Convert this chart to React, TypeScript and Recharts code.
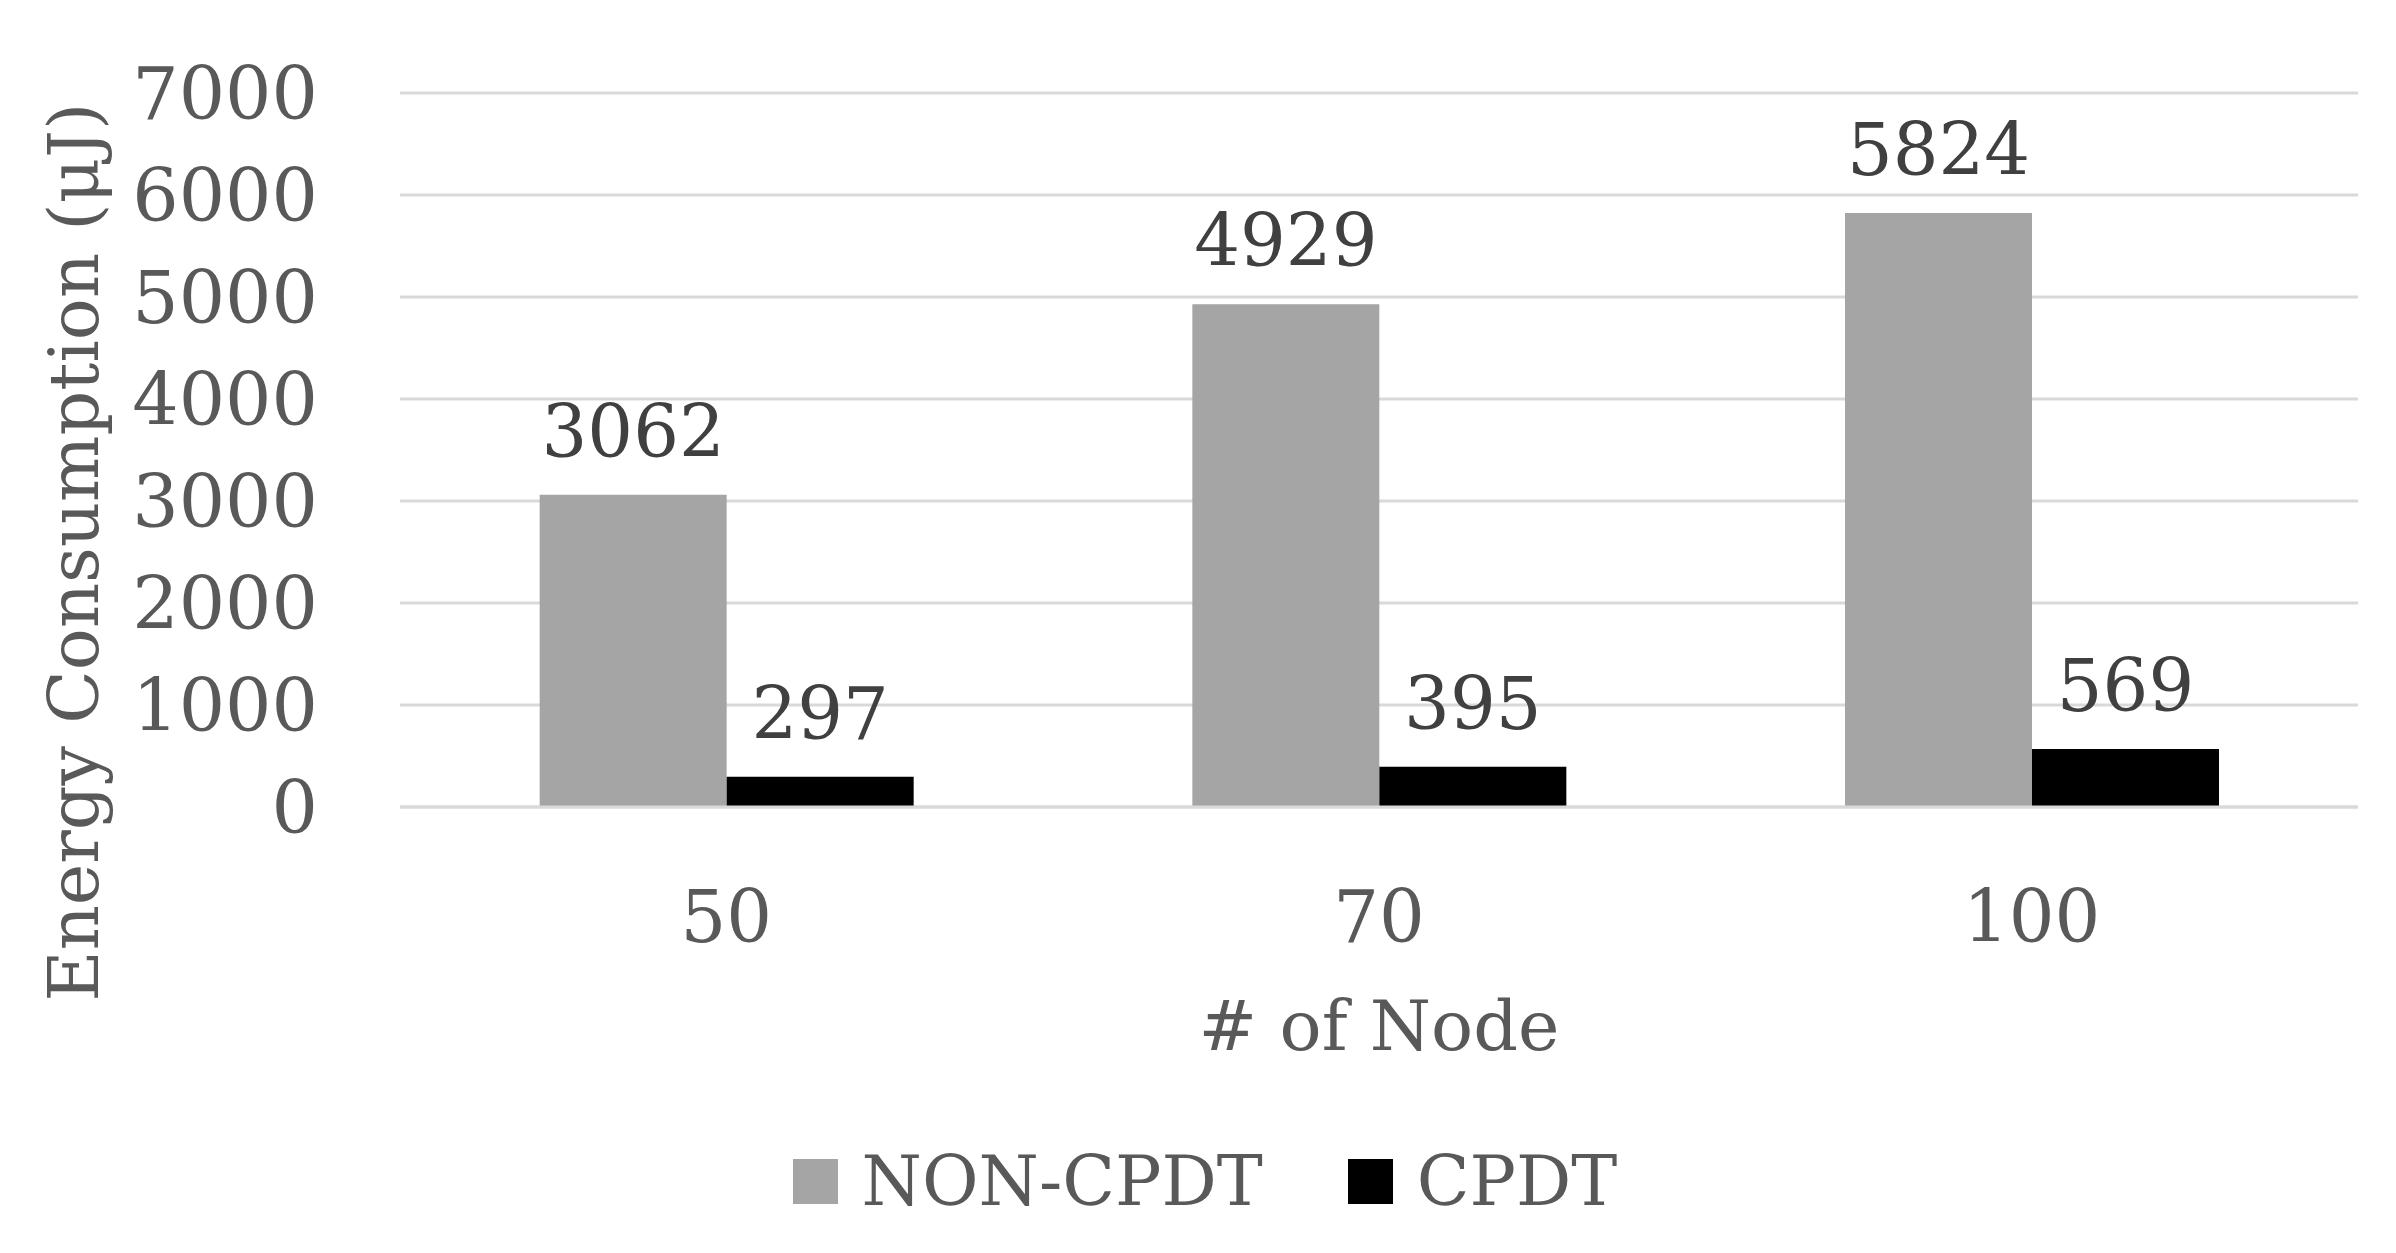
import React from 'react';
import { BarChart, Bar, XAxis, YAxis, CartesianGrid, Legend, LabelList, Label } from 'recharts';

const nodes = ['50', '70', '100'];
const nonCpdt = [3062, 4929, 5824];
const cpdt = [297, 395, 569];
const yTicks = [0, 1000, 2000, 3000, 4000, 5000, 6000, 7000];
const seriesNames = ['NON-CPDT', 'CPDT'];
const seriesColors = ['#a5a5a5', '#000000'];

const data = nodes.map((n, i) => ({ node: n, nonCpdt: nonCpdt[i], cpdt: cpdt[i] }));

const FONT = '"DejaVu Serif", serif';
const TEXT = '#595959';

const YTitle = ({ viewBox }: any) => {
  const cx = 98;
  const cy = viewBox.y + viewBox.height / 2 + 102;
  return (
    <text
      x={cx}
      y={cy}
      transform={`rotate(-90, ${cx}, ${cy})`}
      textAnchor="middle"
      fill={TEXT}
      fontSize={70}
      fontFamily={FONT}
    >
      Energy Consumption (μJ)
    </text>
  );
};

const LegendContent = () => (
  <div
    style={{
      display: 'flex',
      alignItems: 'center',
      justifyContent: 'center',
      height: 100,
      paddingLeft: 52,
      fontFamily: FONT,
      fontSize: 69,
      color: TEXT,
    }}
  >
    {seriesNames.map((name, i) => (
      <div key={name} style={{ display: 'flex', alignItems: 'center', marginLeft: i === 0 ? 0 : 85 }}>
        <span style={{ width: 45, height: 45, background: seriesColors[i], marginRight: 24, display: 'inline-block' }} />
        <span style={{ lineHeight: '100px' }}>{name}</span>
      </div>
    ))}
  </div>
);

const App: React.FC = () => {
  return (
    <div style={{ position: 'absolute', left: 0, top: 0, background: '#fff' }}>
      <BarChart
        width={2396}
        height={1253}
        data={data}
        margin={{ top: 93, right: 38, left: 0, bottom: 22 }}
        barCategoryGap="21.4%"
        barGap={0}
      >
        <CartesianGrid vertical={false} stroke="#d9d9d9" strokeWidth={3} />
        <XAxis
          dataKey="node"
          height={324}
          axisLine={{ stroke: '#d9d9d9', strokeWidth: 3 }}
          tickLine={false}
          tickMargin={78}
          tick={{ fill: TEXT, fontSize: 72, fontFamily: FONT }}
        >
          <Label
            value="# of Node"
            position="insideBottom"
            offset={81}
            fill={TEXT}
            fontSize={70}
            fontFamily={FONT}
          />
        </XAxis>
        <YAxis
          width={400}
          domain={[0, 7000]}
          ticks={yTicks}
          axisLine={false}
          tickLine={false}
          tickMargin={76}
          tick={{ fill: TEXT, fontSize: 73, fontFamily: FONT }}
        >
          <Label content={<YTitle />} />
        </YAxis>
        <Legend verticalAlign="bottom" content={<LegendContent />} />
        <Bar dataKey="nonCpdt" name={seriesNames[0]} fill={seriesColors[0]} isAnimationActive={false}>
          <LabelList dataKey="nonCpdt" position="top" offset={38} fill="#404040" fontSize={72} fontFamily={FONT} />
        </Bar>
        <Bar dataKey="cpdt" name={seriesNames[1]} fill={seriesColors[1]} isAnimationActive={false}>
          <LabelList dataKey="cpdt" position="top" offset={38} fill="#404040" fontSize={72} fontFamily={FONT} />
        </Bar>
      </BarChart>
    </div>
  );
};

export default App;
